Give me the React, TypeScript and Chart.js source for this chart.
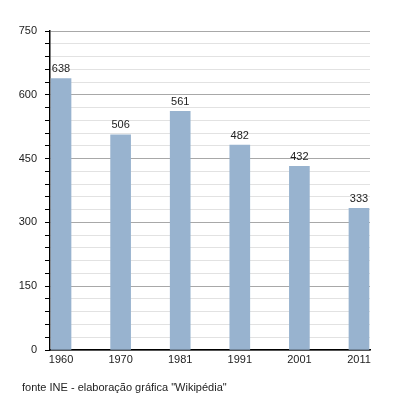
import React, { useEffect, useRef } from "react";
import { Chart, registerables } from "chart.js";

Chart.register(...registerables);

const years = ["1960", "1970", "1981", "1991", "2001", "2011"];
const population = [638, 506, 561, 482, 432, 333];
const yMajorStep = 150;
const yMinorStep = 30;
const yMax = 750;
const footer = 'fonte INE - elaboração gráfica "Wikipédia"';

const FONT = "'Liberation Sans', Arial, sans-serif";

export default function App() {
  const ref = useRef<HTMLCanvasElement | null>(null);
  useEffect(() => {
    if (!ref.current) return;
    const labelPlugin = {
      id: "labels",
      afterDatasetsDraw(chart: any) {
        const ctx = chart.ctx;
        const meta = chart.getDatasetMeta(0);
        ctx.save();
        ctx.font = `11px ${FONT}`;
        ctx.fillStyle = "#222";
        ctx.textAlign = "center";
        ctx.textBaseline = "bottom";
        meta.data.forEach((el: any, i: number) => {
          ctx.fillText(String(population[i]), el.x, el.y - 4);
        });
        ctx.textAlign = "left";
        ctx.textBaseline = "middle";
        ctx.fillText(footer, 22, 388);
        ctx.restore();
      },
    };
    const chart = new Chart(ref.current, {
      type: "bar",
      data: {
        datasets: [
          {
            data: population.map((v, i) => ({ x: i, y: v })),
            backgroundColor: "#98b3cf",
            borderWidth: 0,
            barThickness: 20,
          },
        ],
      },
      options: {
        animation: false,
        responsive: false,
        maintainAspectRatio: false,
        layout: { padding: { left: 0, right: 30, top: 31, bottom: 0 } },
        plugins: { legend: { display: false }, tooltip: { enabled: false } },
        scales: {
          x: {
            type: "linear",
            offset: false,
            min: -0.185,
            max: years.length - 1 + 0.185,
            afterBuildTicks(scale: any) {
              scale.ticks = years.map((_, i) => ({ value: i }));
            },
            afterFit(scale: any) {
              scale.height = 50;
            },
            ticks: {
              callback: (v: any) => years[v] ?? "",
              font: { family: FONT, size: 11 },
              color: "#222",
              padding: 3,
              maxRotation: 0,
              autoSkip: false,
            },
            grid: { display: false, drawTicks: false, offset: false },
            border: { color: "#000", width: 1.5 },
          },
          y: {
            min: 0,
            max: yMax,
            afterFit(scale: any) {
              scale.width = 50;
            },
            ticks: {
              stepSize: yMinorStep,
              autoSkip: false,
              callback: (v: any) => (v % yMajorStep === 0 ? String(v) : ""),
              font: { family: FONT, size: 11 },
              color: "#222",
              padding: 8,
            },
            grid: {
              color: (c: any) =>
                c.tick && c.tick.value % yMajorStep === 0 ? "#a8a8a8" : "#e2e2e2",
              tickColor: "#000",
              tickLength: 5,
            },
            border: { color: "#000", width: 1.5 },
          },
        },
      },
      plugins: [labelPlugin],
    });
    return () => chart.destroy();
  }, []);
  return (
    <div style={{ position: "absolute", left: 0, top: 0, width: 400, height: 400, background: "#fff" }}>
      <canvas ref={ref} width={400} height={400} />
    </div>
  );
}
